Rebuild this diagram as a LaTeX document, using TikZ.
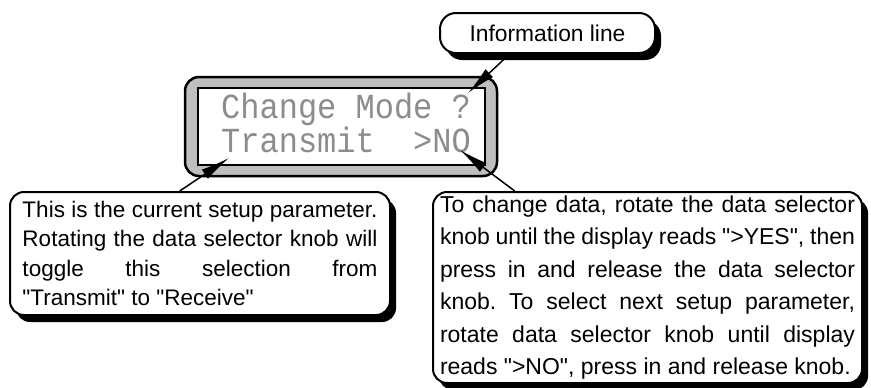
\documentclass[tikz,border=0pt]{standalone}
\usepackage{fontspec}
\usepackage{graphicx}
\setmainfont{Liberation Sans}[Ligatures=TeXOff]
\newfontfamily\lcdfont{Liberation Mono}
\usetikzlibrary{shadows,arrows.meta}
\begin{document}
\begin{tikzpicture}[x=1pt,y=-1pt,
  callout/.style={draw=black, line width=2pt, fill=white, rounded corners=14pt,
    general shadow={fill=black, shadow xshift=6pt, shadow yshift=-7pt}, inner sep=0pt},
  arr/.style={line width=1.5pt, -{Latex[length=29pt,width=11pt]}},
  lcd/.style={font=\lcdfont\fontsize{32}{32}\selectfont, text=black!45, inner sep=0pt, anchor=base west}]
\useasboundingbox (0,0) rectangle (871,388);
% information line callout
\node[callout, rounded corners=16pt, minimum width=215pt, minimum height=40pt,
  font=\fontsize{22.8}{24}\selectfont] (info) at (547.5,33) {Information line};
% display
\node[draw=black, line width=2.5pt, fill=black!25, rounded corners=14pt,
  minimum width=312pt, minimum height=99pt, inner sep=0pt] (disp) at (341,126.5) {};
\node[draw=black, line width=2pt, fill=white, minimum width=287pt, minimum height=77pt,
  inner sep=0pt] (screen) at (341.5,126.5) {};
\node[lcd] (row1) at (221,118) {\scalebox{1}[1.1]{Change Mode ?}};
\node[lcd] (row2) at (221,152) {\scalebox{1}[1.1]{Transmit\ \ >NO}};
\coordinate (qtip) at (468,93);
\coordinate (ttip) at (229,158);
\coordinate (otip) at (460,150);
% left callout
\node[callout, minimum width=380pt, minimum height=123pt, text width=355pt, align=justify,
  font=\fontsize{22.5}{29.5}\selectfont] (lbox) at (200,253.5)
  {\frenchspacing\tolerance=10000\hyphenpenalty=10000 This is the current setup parameter.\linebreak
   Rotating the data selector knob will\linebreak
   toggle this selection from\linebreak
   "Transmit" to "Receive"};
% right callout
\node[callout, minimum width=429pt, minimum height=191pt, text width=415pt, align=justify,
  font=\fontsize{23}{32.5}\selectfont] (rbox) at (647.5,287.5)
  {\frenchspacing\tolerance=10000\hyphenpenalty=10000\parfillskip=0pt To change data, rotate the data selector\linebreak
   knob until the display reads ">YES", then\linebreak
   press in and release the data selector\linebreak
   knob. To select next setup parameter,\linebreak
   rotate data selector knob until display\linebreak
   reads ">NO", press in and release knob.};
% arrows
\draw[arr] (info.209) -- (qtip);
\draw[arr] (lbox.108) -- (ttip);
\draw[arr] (rbox.144) -- (otip);
\end{tikzpicture}
\end{document}
